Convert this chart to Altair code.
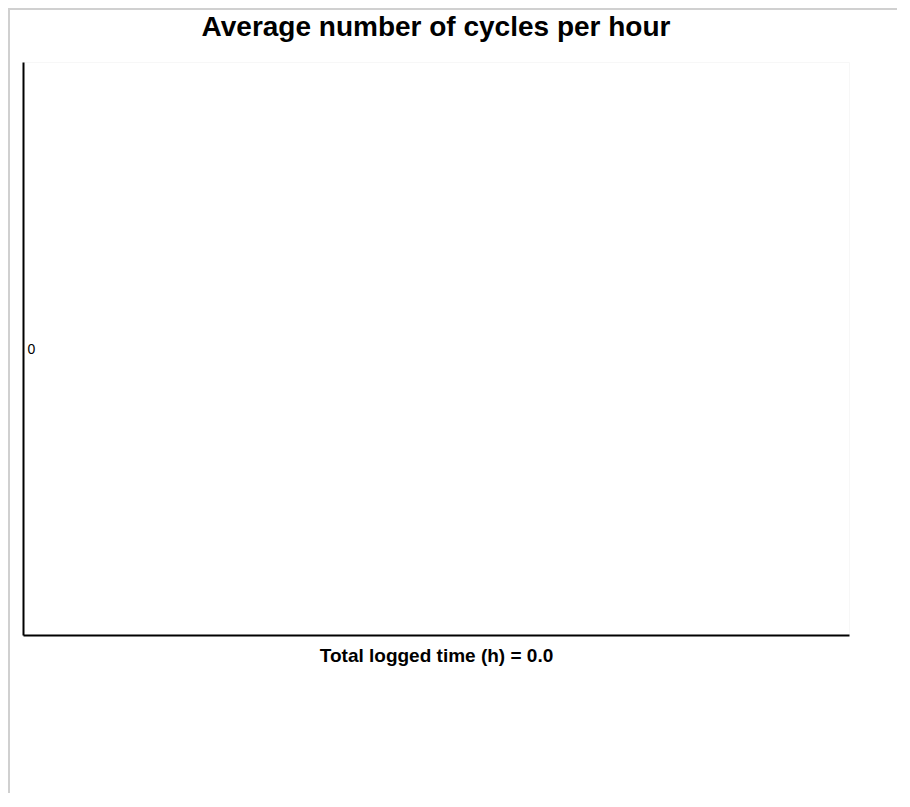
import altair as alt
import pandas as pd

# Data (empty: no cycles logged)
hours = []
cycles = []
y_ticks = [0]
title_text = "Average number of cycles per hour"
x_title = "Total logged time (h) = 0.0"

df = pd.DataFrame({"hour": pd.Series(hours, dtype=float),
                   "cycles": pd.Series(cycles, dtype=float)})

FONT = "Liberation Sans"

points = alt.Chart(df).mark_line(color="#1f77b4").encode(
    x=alt.X("hour:Q", title=x_title,
            scale=alt.Scale(domain=[0, 1]),
            axis=alt.Axis(labels=False, ticks=False, grid=False,
                          domainColor="black", domainWidth=2,
                          titleFont=FONT, titleFontSize=19, titleFontWeight="bold",
                          titleColor="black", titlePadding=11)),
    y=alt.Y("cycles:Q", title=None,
            scale=alt.Scale(domain=[-1, 1]),
            axis=alt.Axis(values=y_ticks, ticks=False, tickSize=0, grid=False,
                          domainColor="black", domainWidth=2,
                          labelAlign="left", labelPadding=-4, labelOffset=1,
                          labelFont=FONT, labelFontSize=14, labelColor="black")),
)

frame_df = pd.DataFrame({"k": [0]})
frame_left = alt.Chart(frame_df).mark_rule(color="#d0d0d0", strokeWidth=2).encode(
    x=alt.value(-14), y=alt.value(-54), y2=alt.value(740)
)
frame_top = alt.Chart(frame_df).mark_rule(color="#d0d0d0", strokeWidth=2).encode(
    x=alt.value(-14), x2=alt.value(900), y=alt.value(-53)
)

chart = alt.layer(frame_left, frame_top, points).properties(
    width=826, height=573,
    title=alt.TitleParams(title_text, font=FONT, fontSize=28, fontWeight="bold",
                          color="black", anchor="middle", frame="group", offset=-35),
    padding={"left": 15, "top": 54, "right": 48, "bottom": 158},
    autosize=alt.AutoSizeParams(type="none"),
).configure(background="white").configure_view(stroke="#f7f7f7")

chart.save("out.html", embed_options={"renderer": "svg", "actions": False})
